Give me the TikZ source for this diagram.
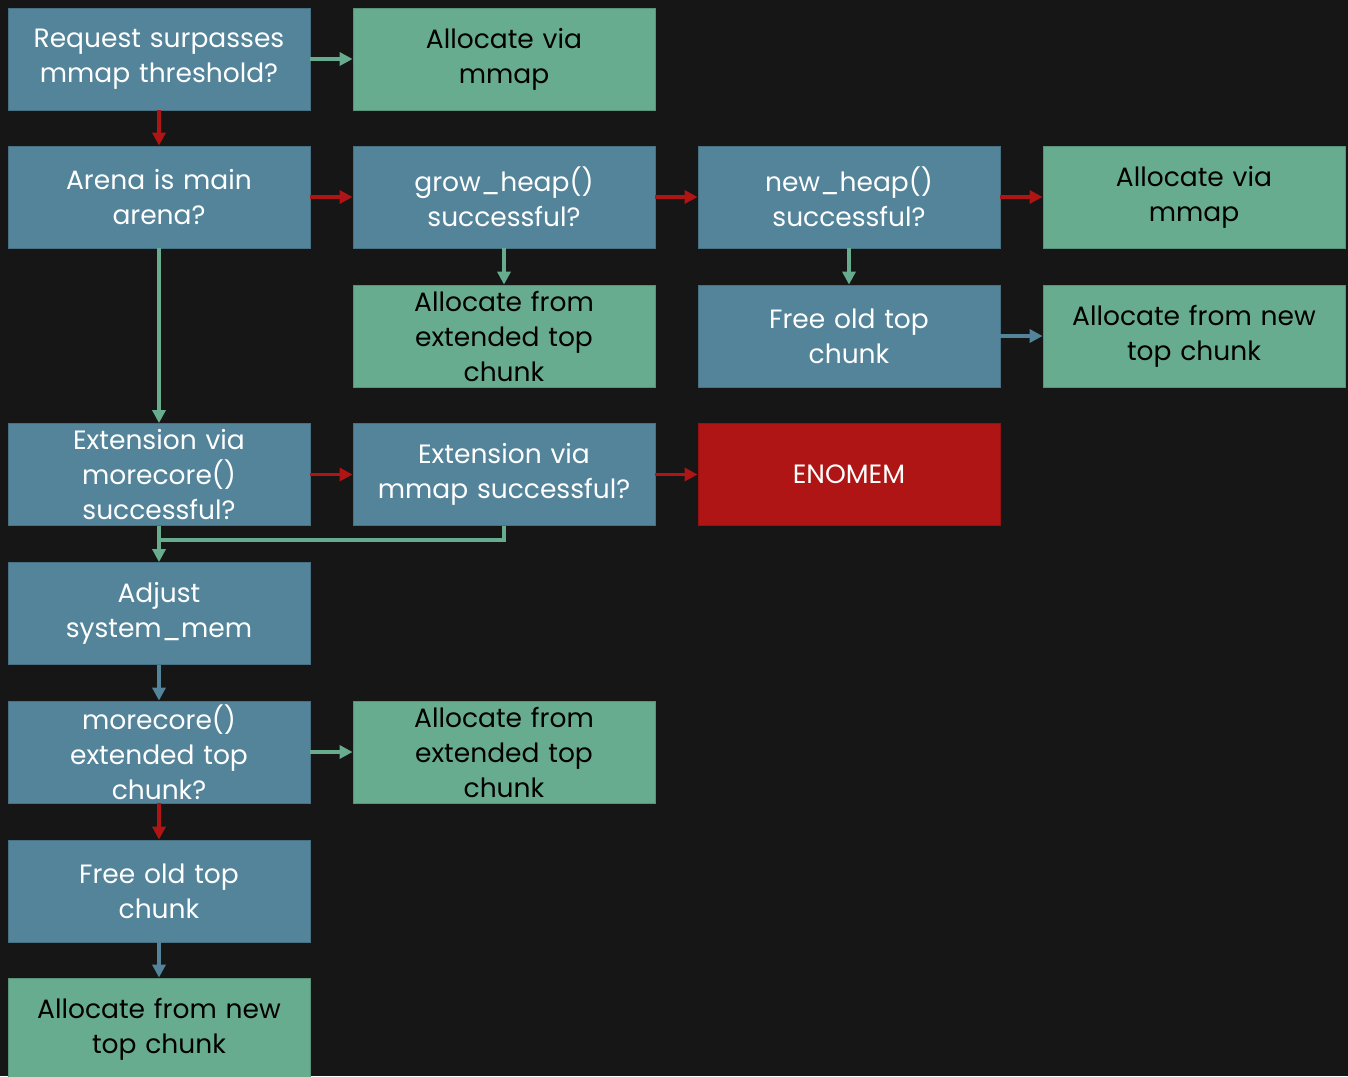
\documentclass[tikz,border=0pt]{standalone}
\usepackage{fontspec}
\setmainfont{Poppins}
\usetikzlibrary{arrows.meta}
\definecolor{bgc}{HTML}{161616}
\definecolor{bluec}{HTML}{53849A}
\definecolor{greenc}{HTML}{68AC8F}
\definecolor{redc}{HTML}{B01515}
\tikzset{
  box/.style={rectangle, minimum width=302pt, minimum height=102pt, inner sep=0pt,
    text width=296pt, align=center, font=\fontsize{26.5}{35}\selectfont,
    execute at begin node={\lineskiplimit=-100pt\lineskip=0pt}},
  bbox/.style={box, fill=bluec, draw=bluec!85!black, line width=0.8pt, text=white},
  gbox/.style={box, fill=greenc, draw=greenc!85!black, line width=0.8pt, text=black},
  rbox/.style={box, fill=redc, draw=redc!85!black, line width=0.8pt, text=white},
  arr/.style={line width=3.2pt, -{Triangle[length=13pt,width=13pt]}},
  rarr/.style={arr, draw=redc},
  garr/.style={arr, draw=greenc},
  barr/.style={arr, draw=bluec},
}
\begin{document}
\begin{tikzpicture}[x=1pt,y=-1pt]
\fill[bgc] (0,0) rectangle (1348,1076);
\useasboundingbox (0,0) rectangle (1348,1076);
\begin{scope}
\clip (0,0) rectangle (1348,1076);
\node[bbox] (req) at (159,59) {Request surpasses\\mmap threshold?};
\node[gbox] (mmapa) at (504,59) {Allocate via\\mmap};
\node[bbox] (arena) at (159,197) {Arena is main\\arena?};
\node[bbox] (grow) at (504,197) {grow\_heap()\\successful?};
\node[bbox] (newheap) at (849,197) {new\_heap()\\successful?};
\node[gbox] (mmapb) at (1194,197) {Allocate via\\mmap};
\node[gbox] (extA) at (504,336) {Allocate from\\extended top\\chunk};
\node[bbox] (freeA) at (849,336) {Free old top\\chunk};
\node[gbox] (newA) at (1194,336) {Allocate from new\\top chunk};
\node[bbox] (extmore) at (159,474.5) {Extension via\\morecore()\\successful?};
\node[bbox] (extmmap) at (504,474.5) {Extension via\\mmap successful?};
\node[rbox] (enomem) at (849,474.5) {ENOMEM};
\node[bbox] (adjust) at (159,613.5) {Adjust\\system\_mem};
\node[bbox] (morecore) at (159,752) {morecore()\\extended top\\chunk?};
\node[gbox] (extB) at (504,752) {Allocate from\\extended top\\chunk};
\node[bbox] (freeB) at (159,891) {Free old top\\chunk};
\node[gbox] (newB) at (159,1029) {Allocate from new\\top chunk};
\end{scope}
\draw[garr] (req) -- (mmapa);
\draw[rarr] (req) -- (arena);
\draw[rarr] (arena) -- (grow);
\draw[rarr] (grow) -- (newheap);
\draw[rarr] (newheap) -- (mmapb);
\draw[garr] (grow) -- (extA);
\draw[garr] (newheap) -- (freeA);
\draw[barr] (freeA) -- (newA);
\draw[garr] (arena) -- (extmore);
\draw[rarr] (extmore) -- (extmmap);
\draw[rarr] (extmmap) -- (enomem);
\draw[garr] (extmore) -- (adjust);
\coordinate (jn) at (159,540);
\draw[greenc, line width=3.2pt, line join=miter] (extmmap.south) |- (jn);
\draw[barr] (adjust) -- (morecore);
\draw[garr] (morecore) -- (extB);
\draw[rarr] (morecore) -- (freeB);
\draw[barr] (freeB) -- (newB);
\end{tikzpicture}
\end{document}
